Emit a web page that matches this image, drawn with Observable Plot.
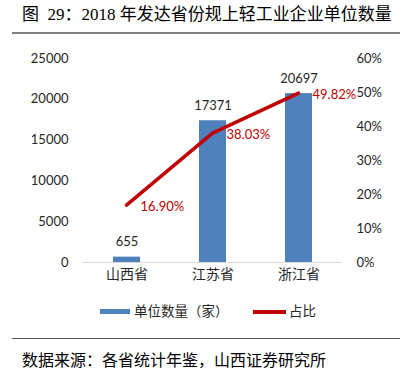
<!DOCTYPE html>
<html><head><meta charset="utf-8">
<script src="https://cdn.jsdelivr.net/npm/d3@7"></script>
<script src="https://cdn.jsdelivr.net/npm/@observablehq/plot@0.6"></script>
<style>
body{margin:0;width:402px;height:379px;background:#fff;position:relative;overflow:hidden;font-family:Lato,"Noto Sans CJK SC",sans-serif;}
#title{position:absolute;left:22px;top:5px;font-size:17px;font-family:"Liberation Serif","Noto Sans CJK SC",serif;color:#000;white-space:pre;line-height:20px;}
.rule{position:absolute;left:12px;width:388px;height:0;}
.chart{position:absolute;left:0;top:40px;}
.sw{position:absolute;}
.lg{position:absolute;font-size:13.5px;color:#262626;line-height:18px;white-space:nowrap;font-family:Lato,"Noto Sans CJK SC",sans-serif;}
#source{position:absolute;left:22px;top:349px;font-size:16px;color:#000;line-height:20px;white-space:nowrap;font-family:"Noto Sans CJK SC",sans-serif;}
#c1 g[aria-label="x-axis tick label"] text{font-size:14px;}
</style></head>
<body>
<div id="title">图  29：2018 年发达省份规上轻工业企业单位数量</div>
<div class="rule" style="top:32px;border-top:2px solid #808080;"></div>
<div id="c1" class="chart"></div>
<div id="c2" class="chart"></div>
<div class="sw" style="left:100px;top:309px;width:30px;height:5px;background:#4f81bd;"></div>
<div class="lg" style="left:134px;top:302px;">单位数量（家）</div>
<div class="sw" style="left:253px;top:310px;width:33px;height:4px;background:#c00000;"></div>
<div class="lg" style="left:289px;top:302px;">占比</div>
<div class="rule" style="top:338px;border-top:1px solid #595959;"></div>
<div id="source">数据来源：各省统计年鉴，山西证券研究所</div>
<script>
const provinces = ["山西省", "江苏省", "浙江省"];
const counts = [655, 17371, 20697];
const shares = [0.169, 0.3803, 0.4982];
const countTicks = [0, 5000, 10000, 15000, 20000, 25000];
const shareTicks = [0, 0.1, 0.2, 0.3, 0.4, 0.5, 0.6];

const data = provinces.map((p, i) => ({p, count: counts[i], share: shares[i]}));

const common = {
  width: 402, height: 260,
  marginLeft: 82, marginRight: 60, marginTop: 18, marginBottom: 38,
  style: {fontSize: "13px", fontFamily: "Lato, 'Noto Sans CJK SC', sans-serif", color: "#262626", background: "transparent", overflow: "visible"}
};

const xOpts = {domain: provinces, paddingInner: 0.69, paddingOuter: 0.345, label: null};

const p1 = Plot.plot({
  ...common,
  x: {...xOpts, tickSize: 0, tickPadding: 7},
  y: {domain: [0, 25000], ticks: countTicks, tickFormat: d => String(d), tickSize: 0, tickPadding: 14, label: null},
  marks: [
    Plot.barY(data, {x: "p", y: "count", fill: "#4f81bd"}),
    Plot.ruleY([0], {stroke: "#d9d9d9"}),
    Plot.text(data, {x: "p", y: "count", text: d => String(d.count), dy: -15, fill: "#262626", fontSize: 13})
  ]
});
document.getElementById("c1").appendChild(p1);

const pct = d3.format(".2%");
const p2 = Plot.plot({
  ...common,
  x: {...xOpts, axis: null},
  y: {domain: [0, 0.6], ticks: shareTicks, tickFormat: d3.format(".0%"), axis: "right", tickSize: 0, tickPadding: 14, label: null},
  marks: [
    Plot.line(data, {x: "p", y: "share", stroke: "#c00000", strokeWidth: 3.5}),
    Plot.text(data, {x: "p", y: "share", text: d => pct(d.share), dx: 14, dy: 2, textAnchor: "start", fill: "#c00000", fontSize: 13})
  ]
});
document.getElementById("c2").appendChild(p2);
</script>
</body></html>
